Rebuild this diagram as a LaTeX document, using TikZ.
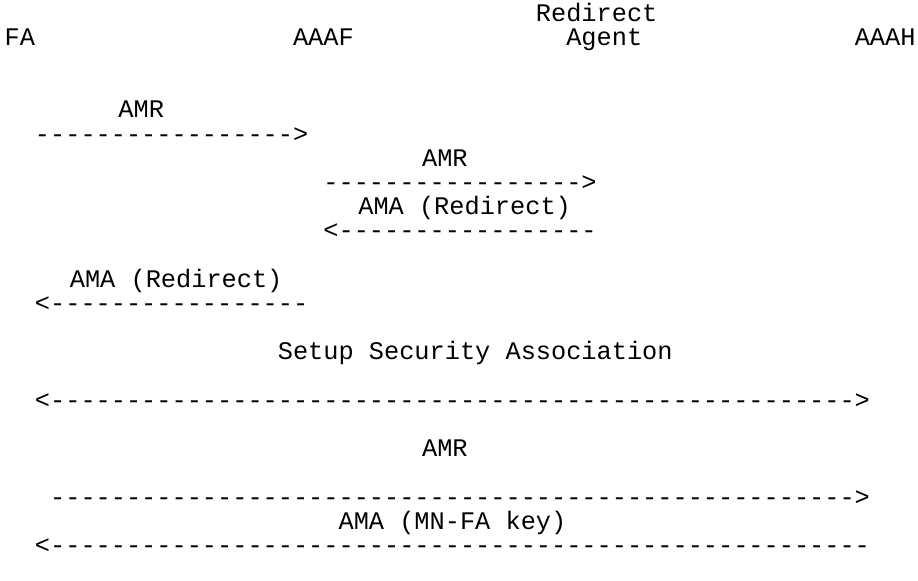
\documentclass[tikz,border=0pt]{standalone}
\usepackage{fontspec}
\newfontfamily\rfcmono{Liberation Mono}[Ligatures=TeXOff]

\tikzset{
    ascii/.style={anchor=base west, inner sep=0pt,
        font=\rfcmono\fontsize{25.3}{25.3}\selectfont},
}

\begin{document}
\begin{tikzpicture}[x=15.18pt, y=-24.2pt]
    % one unit = one character cell, one line of the text
    \useasboundingbox (-0.29,-0.868) rectangle (60.18,23.10);

    % entities
    \node[ascii] (redir) at (35,0) {Redirect};
    \node[ascii] (fa)    at (0,1)  {FA};
    \node[ascii] (aaaf)  at (19,1) {AAAF};
    \node[ascii] (agent) at (37,1) {Agent};
    \node[ascii] (aaah)  at (56,1) {AAAH};

    % redirect exchange
    \node[ascii] (amr1)   at (7.5,4)  {AMR};
    \node[ascii] (arr1)   at (2,5)    {----------------->};
    \node[ascii] (amr2)   at (27.5,6) {AMR};
    \node[ascii] (arr2)   at (21,7)   {----------------->};
    \node[ascii] (ama1)   at (23.3,8) {AMA (Redirect)};
    \node[ascii] (arr3)   at (21,9)   {<-----------------};
    \node[ascii] (ama2)   at (4.3,11) {AMA (Redirect)};
    \node[ascii] (arr4)   at (2,12)   {<-----------------};

    % security association
    \node[ascii] (setup)  at (18,14) {Setup Security Association};
    \node[ascii] (arr5)   at (2,16)  {<----------------------------------------------------->};

    % key exchange
    \node[ascii] (amr3)   at (27.5,18) {AMR};
    \node[ascii] (arr6)   at (3,20)    {----------------------------------------------------->};
    \node[ascii] (ama3)   at (22,21)   {AMA (MN-FA key)};
    \node[ascii] (arr7)   at (2,22)    {<------------------------------------------------------};
\end{tikzpicture}
\end{document}
